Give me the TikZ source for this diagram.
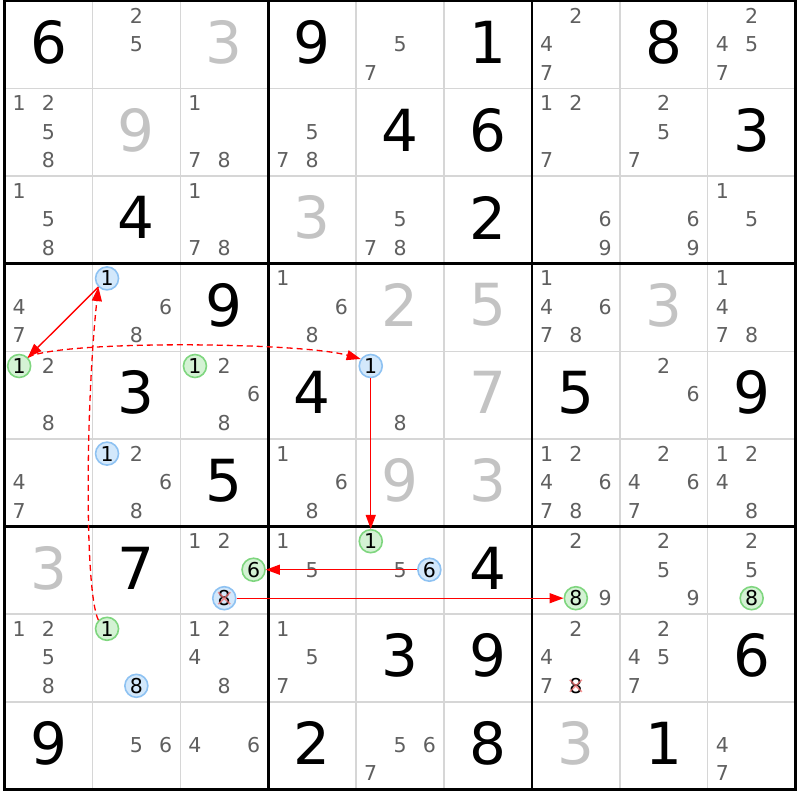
\documentclass[tikz,border=0pt]{standalone}
\usepackage{fontspec}
\setmainfont{DejaVu Sans}
\usetikzlibrary{arrows.meta}
\definecolor{candc}{HTML}{5F5F5F}
\definecolor{solvc}{HTML}{C3C3C3}
\definecolor{thinc}{HTML}{D6D6D6}
\definecolor{gfill}{HTML}{D4F2D4}
\definecolor{gdraw}{HTML}{7FD67F}
\definecolor{bfill}{HTML}{D3E8FB}
\definecolor{bdraw}{HTML}{8EC2F2}
\definecolor{xcol}{HTML}{F07070}
\definecolor{arrc}{HTML}{FF0000}
\newcommand\gv[4]{\node[#4] (g#1#2) at ({4.5+(#2-0.5)*87.9},{1+(#1-0.5)*87.6-2.5}) {#3};}
\newcommand\cpos[3]{%
  \pgfmathsetmacro\cx{4.5+(#2-1)*87.9+(mod(#3-1,3)+0.5)*29.3}%
  \pgfmathsetmacro\cy{1+(#1-1)*87.6+(floor((#3-1)/3)+0.5)*29.2-0.7*floor((#3-1)/3)}}
\newcommand\cands[3]{\foreach \d in {#3} {\cpos{#1}{#2}{\d}\node[cand] (k#1#2\d) at (\cx,\cy) {\d};}}
\newcommand\hc[4]{\cpos{#1}{#2}{#3}\node[#4] (k#1#2#3) at (\cx,\cy) {#3};}
\newcommand\xmark[1]{\draw[xcol,line width=1.5pt,opacity=.75] ([shift={(-6,-6)}]#1.center) -- ([shift={(6,6)}]#1.center) ([shift={(-6,6)}]#1.center) -- ([shift={(6,-6)}]#1.center);}
\begin{document}
\begin{tikzpicture}[x=1pt,y=-1pt,
  given/.style={inner sep=0pt,font=\fontsize{58}{58}\selectfont,text=black},
  solved/.style={given,text=solvc},
  cand/.style={inner sep=0pt,font=\fontsize{20.5}{20.5}\selectfont,text=candc},
  hgreen/.style={cand,text=black,circle,draw=gdraw,fill=gfill,line width=1.6pt,minimum size=23pt},
  hblue/.style={hgreen,draw=bdraw,fill=bfill},
  strong/.style={draw=arrc,line width=1.4pt,-{Triangle[length=14pt,width=10pt]}},
  weak/.style={strong,line width=1.3pt,dash pattern=on 6pt off 4pt},
  thinline/.style={draw=thinc,line width=1.5pt},
  boxline/.style={draw=black,line width=2.8pt}
]
\useasboundingbox (0,0) rectangle (800,800);
\foreach \i in {1,2,4,5,7,8} {
  \draw[thinline] ({4.5+\i*87.9},1) -- ({4.5+\i*87.9},789.4);
  \draw[thinline] (4.5,{1+\i*87.6}) -- (795.6,{1+\i*87.6});
}
\foreach \i in {3,6} {
  \draw[boxline] ({4.5+\i*87.9},1) -- ({4.5+\i*87.9},789.4);
  \draw[boxline] (4.5,{1+\i*87.6}) -- (795.6,{1+\i*87.6});
}
\draw[boxline] (4.5,1) rectangle (795.6,789.4);
% given and solved digits
\gv{1}{1}{6}{given}\gv{1}{3}{3}{solved}\gv{1}{4}{9}{given}\gv{1}{6}{1}{given}\gv{1}{8}{8}{given}
\gv{2}{2}{9}{solved}\gv{2}{5}{4}{given}\gv{2}{6}{6}{given}\gv{2}{9}{3}{given}
\gv{3}{2}{4}{given}\gv{3}{4}{3}{solved}\gv{3}{6}{2}{given}
\gv{4}{3}{9}{given}\gv{4}{5}{2}{solved}\gv{4}{6}{5}{solved}\gv{4}{8}{3}{solved}
\gv{5}{2}{3}{given}\gv{5}{4}{4}{given}\gv{5}{6}{7}{solved}\gv{5}{7}{5}{given}\gv{5}{9}{9}{given}
\gv{6}{3}{5}{given}\gv{6}{5}{9}{solved}\gv{6}{6}{3}{solved}
\gv{7}{1}{3}{solved}\gv{7}{2}{7}{given}\gv{7}{6}{4}{given}
\gv{8}{5}{3}{given}\gv{8}{6}{9}{given}\gv{8}{9}{6}{given}
\gv{9}{1}{9}{given}\gv{9}{4}{2}{given}\gv{9}{6}{8}{given}\gv{9}{7}{3}{solved}\gv{9}{8}{1}{given}
% candidates
\cands{1}{2}{2,5}\cands{1}{5}{5,7}\cands{1}{7}{2,4,7}\cands{1}{9}{2,4,5,7}
\cands{2}{1}{1,2,5,8}\cands{2}{3}{1,7,8}\cands{2}{4}{5,7,8}\cands{2}{7}{1,2,7}\cands{2}{8}{2,5,7}
\cands{3}{1}{1,5,8}\cands{3}{3}{1,7,8}\cands{3}{5}{5,7,8}\cands{3}{7}{6,9}\cands{3}{8}{6,9}\cands{3}{9}{1,5}
\cands{4}{1}{4,7}\cands{4}{2}{6,8}\cands{4}{4}{1,6,8}\cands{4}{7}{1,4,6,7,8}\cands{4}{9}{1,4,7,8}
\cands{5}{1}{2,8}\cands{5}{3}{2,6,8}\cands{5}{5}{8}\cands{5}{8}{2,6}
\cands{6}{1}{4,7}\cands{6}{2}{2,6,8}\cands{6}{4}{1,6,8}\cands{6}{7}{1,2,4,6,7,8}\cands{6}{8}{2,4,6,7}\cands{6}{9}{1,2,4,8}
\cands{7}{3}{1,2}\cands{7}{4}{1,5}\cands{7}{5}{5}\cands{7}{7}{2,9}\cands{7}{8}{2,5,9}\cands{7}{9}{2,5}
\cands{8}{1}{1,2,5,8}\cands{8}{3}{1,2,4,8}\cands{8}{4}{1,5,7}\cands{8}{7}{2,4,7}\cands{8}{8}{2,4,5,7}
\cands{9}{2}{5,6}\cands{9}{3}{4,6}\cands{9}{5}{5,6,7}\cands{9}{9}{4,7}
% highlighted candidates
\hc{4}{2}{1}{hblue}
\hc{5}{1}{1}{hgreen}\hc{5}{3}{1}{hgreen}\hc{5}{5}{1}{hblue}
\hc{6}{2}{1}{hblue}
\hc{7}{3}{6}{hgreen}\hc{7}{3}{8}{hblue}\hc{7}{5}{1}{hgreen}\hc{7}{5}{6}{hblue}
\hc{7}{7}{8}{hgreen}\hc{7}{9}{8}{hgreen}
\hc{8}{2}{1}{hgreen}\hc{8}{2}{8}{hblue}
\hc{8}{7}{8}{cand,text=black}
\xmark{k738}\xmark{k878}
% chain
\draw[strong] (k421) -- (k511);
\draw[weak] (k511.45) .. controls (60,340) and (300,342) .. (k551.145);
\draw[strong] (k551) -- (k751);
\draw[weak] (k821.135) .. controls (84,590) and (86,400) .. (k421.225);
\draw[strong] (k756) -- (k736);
\draw[strong] (k738) -- (k778);
\end{tikzpicture}
\end{document}
